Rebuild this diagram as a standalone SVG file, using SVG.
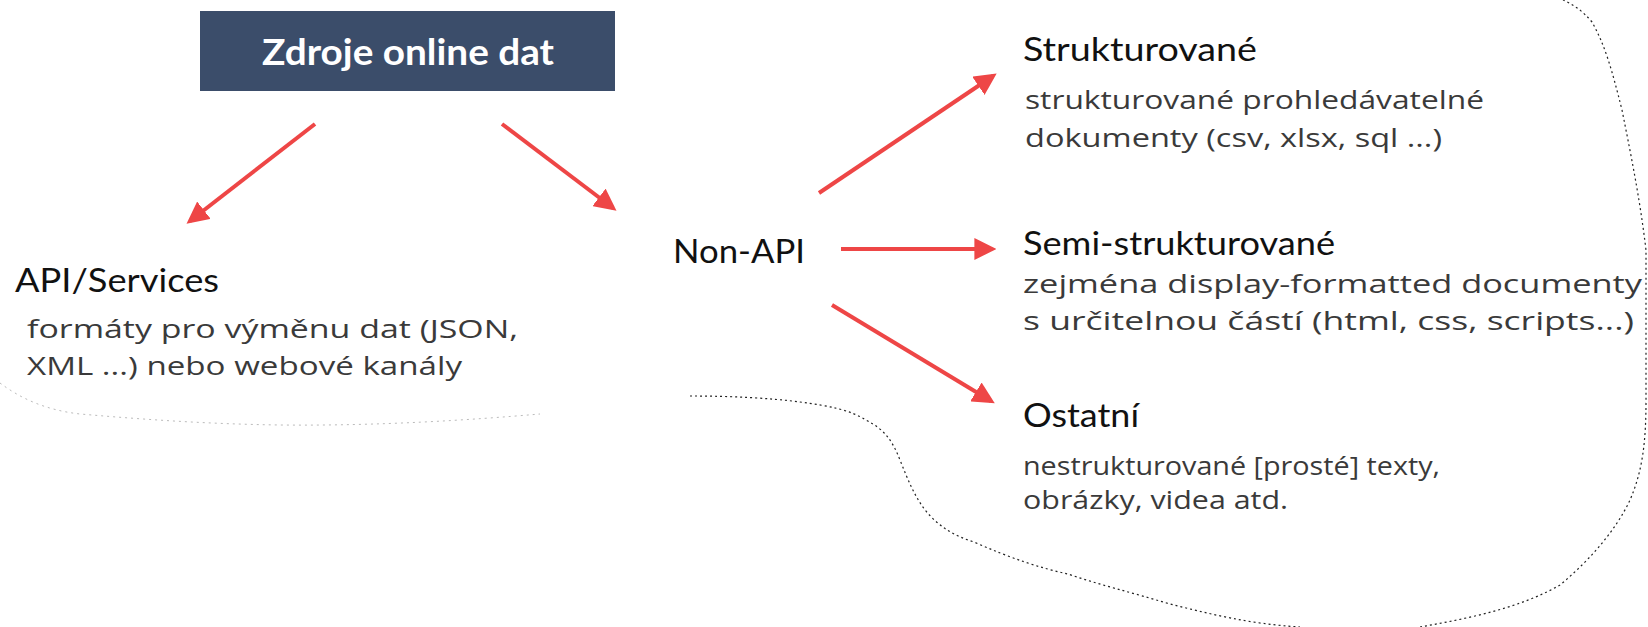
<svg xmlns="http://www.w3.org/2000/svg" width="1648" height="627" viewBox="0 0 1648 627">
<style>
.head{font-family:Lato,"Open Sans","Liberation Sans",sans-serif;font-size:33px;fill:#111;}
.body{font-family:"Open Sans","Liberation Sans",sans-serif;font-size:26px;fill:#3a3a3a;}
.title{font-family:Lato,"Open Sans","Liberation Sans",sans-serif;font-size:37px;font-weight:bold;fill:#ffffff;}
.conn{stroke:#ee4646;stroke-width:4;fill:none;marker-end:url(#ah);}
.outline{fill:none;stroke:#222;stroke-width:1.2;stroke-dasharray:2 3;}
.outline2{fill:none;stroke:#bbb;stroke-width:1;stroke-dasharray:2 4;}
</style>
<defs>
<marker id="ah" viewBox="0 0 10 10" refX="8" refY="5" markerWidth="5.5" markerHeight="5.5" markerUnits="strokeWidth" orient="auto">
<path d="M0,0 L10,5 L0,10 z" fill="#ee4646"/>
</marker>
</defs>
<rect width="1648" height="627" fill="#ffffff"/>
<g id="background">
<path class="outline" d="M690,396 C730,396 770,398 800,402 C830,406 850,410 866,420 C885,430 892,440 900,460 C908,480 914,495 925,510 C940,528 955,536 974,542 C1010,558 1040,568 1068,574 C1100,585 1130,592 1170,604 C1210,614 1250,624 1300,627 M1420,627 C1470,618 1520,608 1560,585 C1590,560 1616,530 1630,500 C1643,470 1646,440 1646,400 L1646,250 C1640,200 1632,160 1622,110 C1612,70 1605,45 1592,22 C1582,10 1572,4 1563,0"/>
<path class="outline2" d="M0,383 C20,398 45,410 80,414 C150,420 210,424 280,425 C380,426 470,420 540,414"/>
</g>
<g id="connectors">
<line class="conn" x1="315" y1="124" x2="190" y2="221"/>
<line class="conn" x1="502" y1="124" x2="613" y2="208"/>
<line class="conn" x1="819" y1="193" x2="993" y2="76"/>
<line class="conn" x1="841" y1="249" x2="992" y2="249"/>
<line class="conn" x1="832" y1="305" x2="991" y2="401"/>
</g>
<g id="node-zdroje">
<rect x="200" y="11" width="415" height="80" fill="#3b4d6a"/>
<text class="title" x="408" y="65" text-anchor="middle" textLength="292" lengthAdjust="spacingAndGlyphs">Zdroje online dat</text>
</g>
<g id="node-api">
<text class="head" x="15" y="292" textLength="204" lengthAdjust="spacingAndGlyphs">API/Services</text>
<text class="body" x="27" y="338" textLength="491" lengthAdjust="spacingAndGlyphs">formáty pro výměnu dat (JSON,</text>
<text class="body" x="27" y="375" textLength="435" lengthAdjust="spacingAndGlyphs">XML ...) nebo webové kanály</text>
</g>
<g id="node-nonapi">
<text class="head" x="673" y="263" textLength="132" lengthAdjust="spacingAndGlyphs">Non-API</text>
</g>
<g id="node-strukturovane">
<text class="head" x="1023" y="61" textLength="234" lengthAdjust="spacingAndGlyphs">Strukturované</text>
<text class="body" x="1025" y="109" textLength="459" lengthAdjust="spacingAndGlyphs">strukturované prohledávatelné</text>
<text class="body" x="1025" y="147" textLength="417" lengthAdjust="spacingAndGlyphs">dokumenty (csv, xlsx, sql ...)</text>
</g>
<g id="node-semi">
<text class="head" x="1023" y="255" textLength="312" lengthAdjust="spacingAndGlyphs">Semi-strukturované</text>
<text class="body" x="1023" y="293" textLength="619" lengthAdjust="spacingAndGlyphs">zejména display-formatted documenty</text>
<text class="body" x="1023" y="330" textLength="611" lengthAdjust="spacingAndGlyphs">s určitelnou částí (html, css, scripts...)</text>
</g>
<g id="node-ostatni">
<text class="head" x="1023" y="427" textLength="116" lengthAdjust="spacingAndGlyphs">Ostatní</text>
<text class="body" x="1023" y="475" textLength="417" lengthAdjust="spacingAndGlyphs">nestrukturované [prosté] texty,</text>
<text class="body" x="1023" y="509" textLength="265" lengthAdjust="spacingAndGlyphs">obrázky, videa atd.</text>
</g>
</svg>
